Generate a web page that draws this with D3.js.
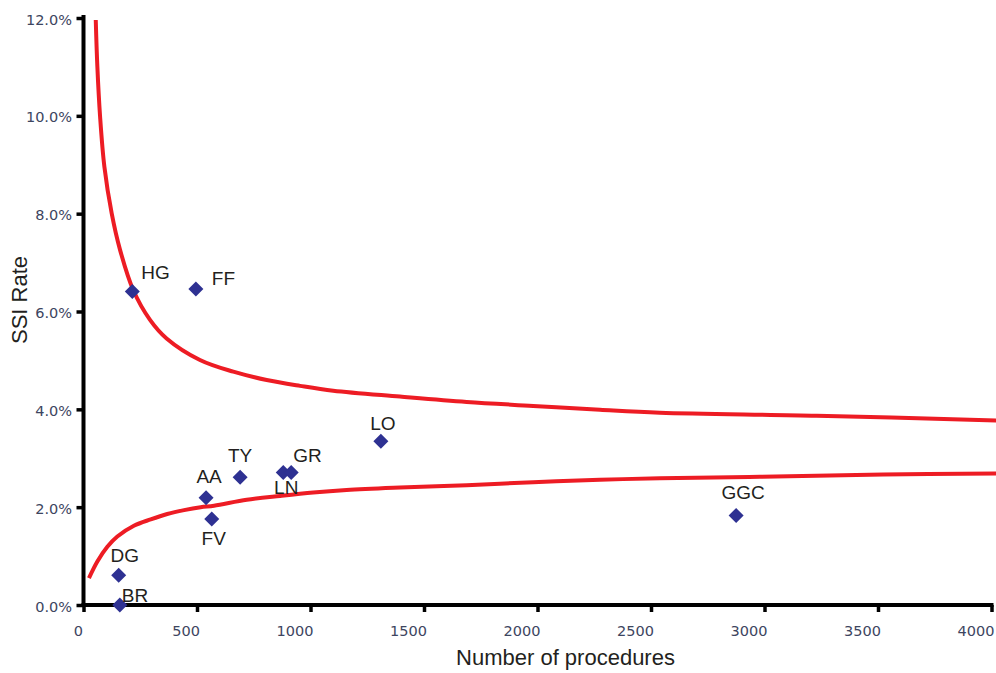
<!DOCTYPE html>
<html>
<head>
<meta charset="utf-8">
<script src="https://cdn.jsdelivr.net/npm/d3@7"></script>
<style>
  html, body { margin: 0; padding: 0; background: #ffffff; }
  svg { display: block; }
</style>
</head>
<body>
<svg id="chart" width="996" height="673"></svg>
<script>
// ---- Data ----
const hospitals  = ["BR", "DG", "HG", "FF", "AA", "FV", "TY", "LN", "GR", "LO", "GGC"];
const procedures = [160, 155, 215, 495, 540, 565, 690, 880, 915, 1310, 2875];
const ssiRate    = [0.0, 0.61, 6.41, 6.46, 2.19, 1.76, 2.61, 2.71, 2.71, 3.35, 1.83];

// upper control limit
const upperN    = [54, 61, 73, 92, 124, 161, 219, 293, 366, 513, 660, 807, 954, 1100, 1394, 1688, 1981, 2275, 2539, 3230, 4020];
const upperRate = [11.96, 11.01, 9.99, 8.96, 8.01, 7.26, 6.44, 5.83, 5.45, 5.01, 4.77, 4.60, 4.48, 4.38, 4.26, 4.15, 4.07, 3.99, 3.93, 3.87, 3.77];

// lower control limit
const lowerN    = [24, 61, 105, 149, 222, 296, 369, 443, 516, 575, 719, 866, 1012, 1159, 1394, 1688, 1981, 2275, 2539, 2980, 3523, 4020];
const lowerRate = [0.55, 0.89, 1.19, 1.40, 1.62, 1.75, 1.86, 1.94, 2.00, 2.03, 2.15, 2.23, 2.30, 2.35, 2.40, 2.45, 2.51, 2.56, 2.59, 2.62, 2.67, 2.69];

const xTicks = [0, 500, 1000, 1500, 2000, 2500, 3000, 3500, 4000];
const yTicks = [0, 2, 4, 6, 8, 10, 12];

const xTitle = "Number of procedures";
const yTitle = "SSI Rate";

// ---- Label placement (presentation only) ----
const labelPlace = {
  BR:  {dx: 2,  dy: -3,  anchor: "start"},
  DG:  {dx: 6,  dy: -13, anchor: "middle"},
  HG:  {dx: 9,  dy: -12, anchor: "start"},
  FF:  {dx: 16, dy: -4,  anchor: "start"},
  AA:  {dx: 3,  dy: -15, anchor: "middle"},
  FV:  {dx: 2,  dy: 26,  anchor: "middle"},
  TY:  {dx: 0,  dy: -15, anchor: "middle"},
  LN:  {dx: 3,  dy: 22,  anchor: "middle"},
  GR:  {dx: 2,  dy: -10, anchor: "start"},
  LO:  {dx: 2,  dy: -11, anchor: "middle"},
  GGC: {dx: 7,  dy: -16, anchor: "middle"}
};

// ---- Layout ----
const svg = d3.select("#chart");
const x = d3.scaleLinear().domain([0, 4000]).range([83.5, 991.5]);
const y = d3.scaleLinear().domain([0, 12]).range([605, 18]);

const tickFont = "'DejaVu Sans', Verdana, sans-serif";
const labelFont = "'Liberation Sans', Arial, Helvetica, sans-serif";
const tickColor = "#3d4560";

// x axis
const gx = svg.append("g")
  .attr("transform", `translate(0,${y(0)})`)
  .call(d3.axisBottom(x).tickValues(xTicks).tickFormat(d3.format("d")).tickSize(7).tickSizeOuter(0));
gx.select(".domain").remove();
gx.selectAll(".tick line").attr("stroke", "#000").attr("stroke-width", 3.5);
gx.selectAll(".tick text")
  .attr("font-family", tickFont).attr("font-size", 14.5).attr("fill", tickColor)
  .attr("text-anchor", "end")
  .attr("x", d => d === 0 ? -1 : 2.5)
  .attr("y", 21).attr("dy", "0.71em");

// y axis
const gy = svg.append("g")
  .attr("transform", `translate(${x(0)},0)`)
  .call(d3.axisLeft(y).tickValues(yTicks).tickFormat(d => d.toFixed(1) + "%").tickSize(7).tickPadding(4.5).tickSizeOuter(0));
gy.select(".domain").remove();
gy.selectAll(".tick line").attr("stroke", "#000").attr("stroke-width", 3.5);
gy.selectAll(".tick text")
  .attr("font-family", tickFont).attr("font-size", 14.5).attr("fill", tickColor)
  .attr("dy", "0.42em");

// axis lines
svg.append("line")
  .attr("x1", x(0)).attr("x2", x(0))
  .attr("y1", y(12) - 3).attr("y2", y(0) + 2)
  .attr("stroke", "#000").attr("stroke-width", 4);
svg.append("line")
  .attr("x1", x(0) - 2).attr("x2", x(4000) + 2)
  .attr("y1", y(0)).attr("y2", y(0))
  .attr("stroke", "#000").attr("stroke-width", 4);

// control limit curves
const line = d3.line().x(d => x(d[0])).y(d => y(d[1])).curve(d3.curveCatmullRom.alpha(0.5));
const upper = upperN.map((n, i) => [n, upperRate[i]]);
const lower = lowerN.map((n, i) => [n, lowerRate[i]]);
[upper, lower].forEach(series => {
  svg.append("path")
    .datum(series)
    .attr("d", line)
    .attr("fill", "none")
    .attr("stroke", "#ED1C24")
    .attr("stroke-width", 4)
    .attr("stroke-linecap", "butt")
    .attr("stroke-linejoin", "round");
});

// points
const pts = hospitals.map((h, i) => ({name: h, n: procedures[i], r: ssiRate[i]}));
const diamond = "M0,-7.5L7.5,0L0,7.5L-7.5,0Z";
svg.append("g").selectAll("path")
  .data(pts)
  .join("path")
  .attr("d", diamond)
  .attr("transform", d => `translate(${x(d.n)},${y(d.r)})`)
  .attr("fill", "#2E3192");

// labels
svg.append("g").selectAll("text")
  .data(pts)
  .join("text")
  .attr("x", d => x(d.n) + labelPlace[d.name].dx)
  .attr("y", d => y(d.r) + labelPlace[d.name].dy)
  .attr("text-anchor", d => labelPlace[d.name].anchor)
  .attr("font-family", labelFont)
  .attr("font-size", 19)
  .attr("fill", "#231f20")
  .text(d => d.name);

// axis titles
svg.append("text")
  .attr("x", 565.5).attr("y", 665)
  .attr("text-anchor", "middle")
  .attr("font-family", labelFont).attr("font-size", 22).attr("fill", "#231f20")
  .text(xTitle);
svg.append("text")
  .attr("transform", "translate(27,300) rotate(-90)")
  .attr("text-anchor", "middle")
  .attr("font-family", labelFont).attr("font-size", 22).attr("fill", "#231f20")
  .text(yTitle);
</script>
</body>
</html>
